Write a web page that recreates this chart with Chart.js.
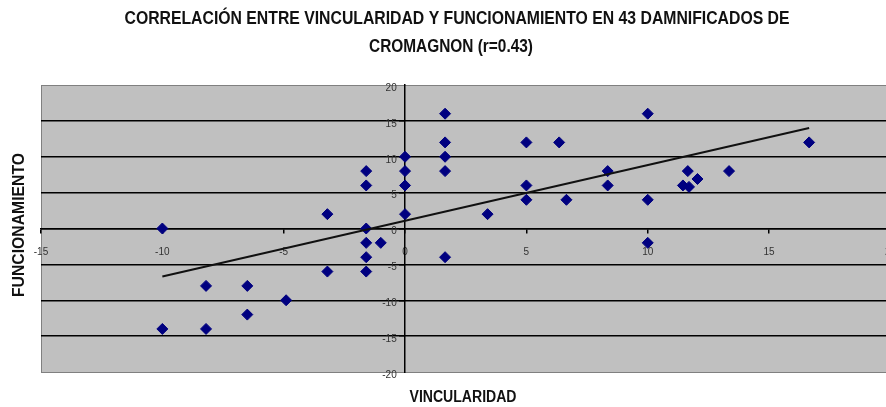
<!DOCTYPE html>
<html>
<head>
<meta charset="utf-8">
<script src="https://cdn.jsdelivr.net/npm/chart.js@4.4.1/dist/chart.umd.min.js"></script>
<style>
  html, body { margin: 0; padding: 0; background: #fff; overflow: hidden; }
  #wrap { width: 910px; height: 407px; }
</style>
</head>
<body>
<div id="wrap"><canvas id="js-scatter" width="910" height="407"></canvas></div>
<script>
const titleLines = ['CORRELACIÓN ENTRE VINCULARIDAD Y FUNCIONAMIENTO EN 43 DAMNIFICADOS DE', 'CROMAGNON (r=0.43)'];
const xTitle = 'VINCULARIDAD';
const yTitle = 'FUNCIONAMIENTO';

// one entry per person
const vincularidad = [
    -10, -3.2, -1.6, -1.6, -1.6, -1.6, -1, 0, 0, 0, 0,
    -1.6, -1.6, -3.2, -8.2, -6.5, -4.9, -6.5, -10, -8.2,
    1.65, 1.65, 1.65, 1.65, 3.4, 5, 5, 5, 6.35, 6.65, 8.35, 8.35,
    10, 10, 10, 11.65, 12.05, 11.45, 11.7, 13.35, 16.65, 1.65
];
const funcionamiento = [
    0, 2, 8, 6, 0, -2, -2, 10, 8, 6, 2,
    -4, -6, -6, -8, -8, -10, -12, -14, -14,
    16, 12, 10, 8, 2, 12, 6, 4, 12, 4, 8, 6,
    16, 4, -2, 8, 6.9, 6, 5.8, 8, 12, -4
];

// linear trend line end points
const trendX = [-10, 16.65];
const trendY = [-6.7, 14];

const xTicks = { min: -15, max: 20, step: 5 };
const yTicks = { min: -20, max: 20, step: 5 };

const points = vincularidad.map((v, i) => ({ x: v, y: funcionamiento[i] }));
const trend = trendX.map((v, i) => ({ x: v, y: trendY[i] }));

const tickFont = { family: '"Liberation Sans", Arial, sans-serif', size: 10 };

function drawNarrow(ctx, text, x, y, width, font, rotate) {
    ctx.save();
    ctx.font = font;
    const w = ctx.measureText(text).width;
    ctx.translate(x, y);
    if (rotate) ctx.rotate(-Math.PI / 2);
    ctx.scale(width / w, 1);
    ctx.textAlign = 'center';
    ctx.textBaseline = 'middle';
    ctx.fillStyle = '#111';
    ctx.fillText(text, 0, 0);
    ctx.restore();
}

const plotArea = {
    id: 'plotArea',
    beforeDraw(chart) {
        const { ctx, chartArea: a } = chart;
        ctx.save();
        ctx.fillStyle = '#c0c0c0';
        ctx.fillRect(a.left, a.top, a.right - a.left, a.bottom - a.top);
        ctx.strokeStyle = '#808080';
        ctx.lineWidth = 1;
        ctx.strokeRect(a.left + 0.5, a.top + 0.5, a.right - a.left, a.bottom - a.top);
        ctx.restore();
    },
    afterDraw(chart) {
        const ctx = chart.ctx;
        const bold = 'bold 18px "Liberation Sans", Arial, sans-serif';
        drawNarrow(ctx, titleLines[0], 457, 19, 665, bold);
        drawNarrow(ctx, titleLines[1], 451, 47, 164, bold);
        drawNarrow(ctx, xTitle, 463, 398, 107, 'bold 16px "Liberation Sans", Arial, sans-serif');
        drawNarrow(ctx, yTitle, 20, 225, 144, 'bold 16px "Liberation Sans", Arial, sans-serif', true);
    }
};

const chartConfig = {
    type: 'scatter',
    data: {
        datasets: [{
            data: points,
            pointStyle: 'rectRot',
            pointRadius: 5.5,
            pointBackgroundColor: '#000080',
            pointBorderColor: '#000080',
            pointBorderWidth: 1,
            order: 2
        }, {
            data: trend,
            showLine: true,
            borderColor: '#111',
            borderWidth: 2,
            pointRadius: 0,
            order: 1
        }]
    },
    options: {
        responsive: false,
        animation: false,
        layout: { padding: { left: 41, right: 14, top: 85, bottom: 35 } },
        plugins: { legend: { display: false }, tooltip: { enabled: false } },
        scales: {
            x: {
                type: 'linear',
                position: { y: 0 },
                min: xTicks.min,
                max: xTicks.max,
                ticks: { stepSize: xTicks.step, font: tickFont, color: '#333', padding: 14 },
                grid: { display: true, drawOnChartArea: false, drawTicks: true, tickLength: 4, color: '#000', lineWidth: 1.5 },
                border: { display: true, color: '#000', width: 1.5 }
            },
            y: {
                type: 'linear',
                position: { x: 0 },
                min: yTicks.min,
                max: yTicks.max,
                ticks: {
                    stepSize: yTicks.step, font: tickFont, color: '#333', padding: 5, labelOffset: 3,
                    // keep the labels clear of the axis line, as in the original
                    callback: v => v + '   '
                },
                grid: {
                    color: c => Math.abs(c.tick.value) === yTicks.max ? '#808080' : '#000',
                    lineWidth: c => Math.abs(c.tick.value) === yTicks.max ? 1 : 1.5,
                    tickLength: 5
                },
                border: { display: true, color: '#000', width: 1.5 }
            }
        }
    },
    plugins: [plotArea]
};

new Chart(document.getElementById('js-scatter'), chartConfig);
</script>
</body>
</html>
